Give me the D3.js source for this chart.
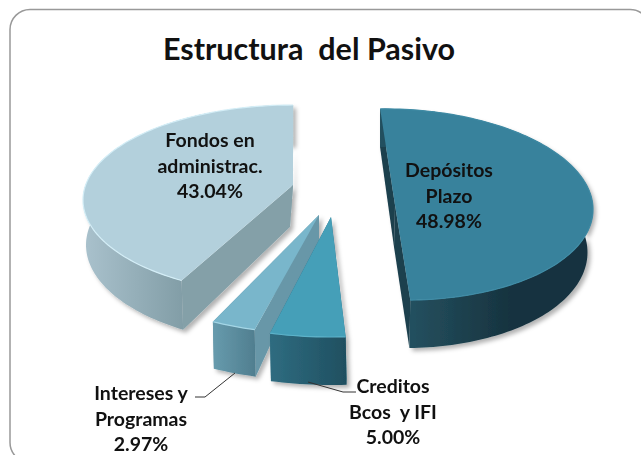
<!DOCTYPE html>
<html>
<head>
<meta charset="utf-8">
<script src="https://cdn.jsdelivr.net/npm/d3@7"></script>
<style>
  html, body { margin: 0; padding: 0; background: #fff; overflow: hidden; }
  text { font-family: Lato, "Open Sans", sans-serif; font-weight: 700; fill: #111; }
</style>
</head>
<body>
<div id="chart"></div>
<script>
const width = 641;
const height = 455;

const titleText = "Estructura  del Pasivo";
const categories = ["Depósitos Plazo", "Creditos Bcos y IFI", "Intereses y Programas", "Fondos en administrac."];
const shares = [48.98, 5.0, 2.97, 43.04];
const shareLabels = ["48.98%", "5.00%", "2.97%", "43.04%"];
const labelLines = [["Depósitos", "Plazo"], ["Creditos", "Bcos  y IFI"], ["Intereses y", "Programas"], ["Fondos en", "administrac."]];

// excel draws this in perspective, so every exploded slice gets its own ellipse
// top / bottom = ellipse of that face, apex = where the slice's point really sits
const layouts = [
  { turn: -1.3, stretch: 1.02, skew: 0.025,
    top: { cx: 395, cy: 204.5, rx: 198, ry: 95.5, apex: [395, 205] },
    bottom: { cx: 394.5, cy: 247.5, rx: 193, ry: 100.5, apex: [394, 247] },
    face: "#38829c", side: "#1b3f4d", wall: ["#24505f", "#17333f"], wallRange: [411, 510],
    rim: "#3f8ba5", label: [449, 177] },
  { turn: 3.2, stretch: 1, skew: 0,
    top: { cx: 331, cy: 217, rx: 243, ry: 120, apex: [331, 217] },
    bottom: { cx: 332, cy: 265, rx: 243, ry: 120, apex: [332, 250] },
    face: "#449fb8", side: "#2d6b80", wall: ["#2f6c80", "#1f4f60"], wallRange: [270, 347],
    rim: "#5cb2c9", label: [393, 393] },
  { turn: 4.2, stretch: 1, skew: 0,
    top: { cx: 319, cy: 215, rx: 240, ry: 119, apex: [319, 215] },
    bottom: { cx: 320, cy: 262, rx: 240, ry: 119, apex: [319, 240] },
    face: "#79b6cb", side: "#6797a8", wall: ["#679bad", "#4f7d8e"], wallRange: [213, 257],
    rim: "#a4d6e6", label: [141, 400] },
  { turn: 10, stretch: 0.955, skew: 0,
    top: { cx: 293, cy: 200, rx: 210, ry: 95, apex: [293, 185] },
    bottom: { cx: 293, cy: 245, rx: 207, ry: 100, apex: [290, 227] },
    face: "#b3d0dc", side: "#84a0a8", wall: ["#a9c1cc", "#7f9ba4"], wallRange: [85, 190],
    rim: "#d4eef7", label: [210, 147] }
];

const leaders = [
  null,
  [[308, 382], [343, 392], [356, 392]],
  [[235, 373], [205, 397], [195, 397]],
  null
];

const pie = d3.pie().sort(null)
  .startAngle(-3 * Math.PI / 180)
  .endAngle(357 * Math.PI / 180);
const line = d3.line();

const svg = d3.select("#chart").append("svg")
  .attr("width", width)
  .attr("height", height)
  .style("display", "block");

const defs = svg.append("defs");
const shadow = defs.append("filter").attr("id", "shadow")
  .attr("x", "-10%").attr("y", "-10%").attr("width", "120%").attr("height", "120%");
shadow.append("feDropShadow")
  .attr("dx", 3).attr("dy", 3).attr("stdDeviation", 2)
  .attr("flood-color", "#000").attr("flood-opacity", 0.3);
const soften = defs.append("filter").attr("id", "soften");
soften.append("feGaussianBlur").attr("stdDeviation", 0.4);

// chart frame, runs off the picture on the right and at the bottom
svg.append("rect")
  .attr("x", 10).attr("y", 9.5)
  .attr("width", 640).attr("height", 453)
  .attr("rx", 20)
  .attr("fill", "#fff")
  .attr("stroke", "#999")
  .attr("stroke-width", 1.5);

svg.append("text")
  .attr("x", 309).attr("y", 60)
  .attr("text-anchor", "middle")
  .attr("font-size", 30.5)
  .style("white-space", "pre")
  .text(titleText);

function onEllipse(e, a, skew) {
  const x = e.rx * Math.sin(a);
  return [e.cx + x, e.cy - e.ry * Math.cos(a) + skew * x];
}

function arcPoints(e, a0, a1, skew) {
  const n = Math.max(8, Math.ceil(Math.abs(a1 - a0) * 40));
  return d3.range(n + 1).map(i => onEllipse(e, a0 + (a1 - a0) * i / n, skew));
}

const arcs = pie(shares).map((d, i) => {
  const l = layouts[i];
  const turn = l.turn * Math.PI / 180;
  const a0 = d.startAngle + turn;
  return { i, l, a0, a1: a0 + (d.endAngle - d.startAngle) * l.stretch };
});

// back to front so the near slices cover the far ones
const order = [0, 3, 2, 1];
const slices = svg.append("g").attr("filter", "url(#soften)");

order.forEach(idx => {
  const { i, l, a0, a1 } = arcs[idx];
  const g = slices.append("g").attr("class", "slice").attr("data-name", categories[i]);

  const grad = defs.append("linearGradient")
    .attr("id", "wall" + i)
    .attr("gradientUnits", "userSpaceOnUse")
    .attr("x1", l.wallRange[0]).attr("x2", l.wallRange[1])
    .attr("y1", 0).attr("y2", 0);
  grad.append("stop").attr("offset", 0).attr("stop-color", l.wall[0]);
  grad.append("stop").attr("offset", 1).attr("stop-color", l.wall[1]);

  const topArc = arcPoints(l.top, a0, a1, l.skew);
  const bottomArc = arcPoints(l.bottom, a0, a1, l.skew);
  const solid = g.append("g").attr("filter", "url(#shadow)");

  // the two flat cut faces
  [[topArc[0], bottomArc[0]], [topArc[topArc.length - 1], bottomArc[bottomArc.length - 1]]].forEach(c => {
    solid.append("path")
      .attr("d", line([c[0], l.top.apex, l.bottom.apex, c[1]]) + "Z")
      .attr("fill", l.side);
  });

  // curved outer wall
  solid.append("path")
    .attr("d", line(topArc.concat(bottomArc.slice().reverse())) + "Z")
    .attr("fill", "url(#wall" + i + ")");

  // top face
  g.append("path")
    .attr("d", line(topArc.concat([l.top.apex])) + "Z")
    .attr("fill", l.face);

  // light bevel along the rim
  g.append("path")
    .attr("d", line(topArc))
    .attr("fill", "none")
    .attr("stroke", l.rim)
    .attr("stroke-width", 1.2);
});

leaders.forEach(pts => {
  if (!pts) return;
  svg.append("path")
    .attr("d", line(pts))
    .attr("fill", "none")
    .attr("stroke", "#333")
    .attr("stroke-width", 1);
});

categories.forEach((c, i) => {
  const t = svg.append("text")
    .attr("text-anchor", "middle")
    .attr("font-size", 19.5)
    .style("white-space", "pre");
  labelLines[i].concat(shareLabels[i]).forEach((s, k) => {
    t.append("tspan")
      .attr("x", layouts[i].label[0])
      .attr("y", layouts[i].label[1] + k * 25.5)
      .text(s);
  });
});
</script>
</body>
</html>
